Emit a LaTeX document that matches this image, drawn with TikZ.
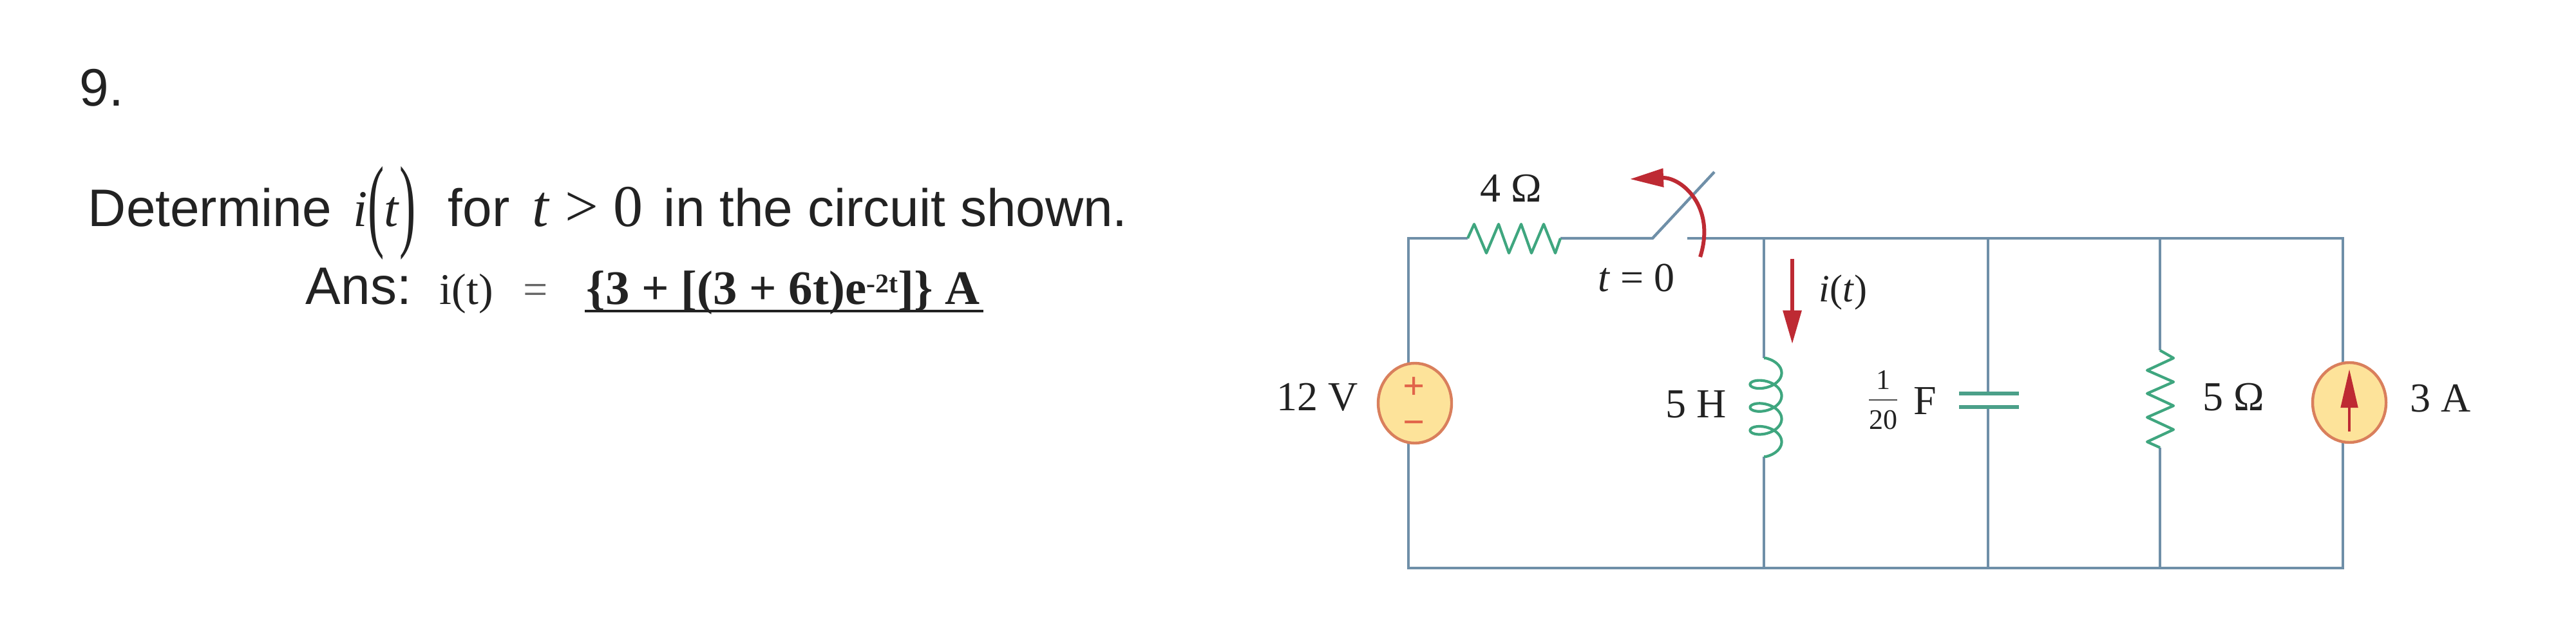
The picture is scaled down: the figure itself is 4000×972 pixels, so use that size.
\documentclass[tikz,border=0pt]{standalone}
\usepackage{fontspec}
\setmainfont{Liberation Serif}
\newfontfamily\arialf{Liberation Sans}
\usetikzlibrary{arrows.meta,shapes.geometric}
\definecolor{wirec}{HTML}{6F8FA8}
\definecolor{compc}{HTML}{3FA67F}
\definecolor{redc}{HTML}{BE2A33}
\definecolor{srcfill}{HTML}{FDE39A}
\definecolor{srcedge}{HTML}{D97F5C}
\definecolor{inkc}{HTML}{222222}
\newcommand{\tallparen}[1]{\raisebox{-4.5pt}{\scalebox{0.95}[2.0]{#1}}}
\tikzset{
  wire/.style={draw=wirec,line width=1.1pt,line join=miter},
  comp/.style={draw=compc,line width=1.05pt,line join=round},
  plate/.style={draw=compc!75!wirec,line width=1.3pt},
  redarrow/.style={draw=redc,line width=1.5pt,-{Triangle[length=13pt,width=7pt,fill=redc]}},
  source/.style={ellipse,draw=srcedge,fill=srcfill,line width=1.1pt,minimum width=28.5pt,minimum height=31pt,inner sep=0pt},
  sans/.style={anchor=base west,inner sep=0pt,text=inkc,font=\arialf\fontsize{20.5}{24}\selectfont},
  mathlbl/.style={anchor=base west,inner sep=0pt,text=inkc,font=\fontsize{20}{24}\selectfont},
  lbl/.style={inner sep=0pt,text=inkc,font=\fontsize{16}{19}\selectfont},
  smalllbl/.style={inner sep=0pt,text=inkc,font=\fontsize{11}{13}\selectfont},
  sign/.style={inner sep=0pt,text=srcedge!80!red,font=\fontsize{15}{17}\bfseries\selectfont}
}
\begin{document}
\begin{tikzpicture}[x=0.25pt,y=-0.25pt]
\useasboundingbox (0,0) rectangle (4000,972);
% text
\node[sans] (nine) at (123,165) {9.};
\node[sans] (det) at (136,352) {Determine};
\node[mathlbl] (it) at (548,352) {\textit{i}\tallparen{(}\textit{t}\tallparen{)}};
\node[sans] (for) at (695,352) {for};
\node[mathlbl,font=\fontsize{23}{28}\selectfont] (tgt) at (826,352) {\textit{t} > 0};
\node[sans] (shown) at (1030,352) {in the circuit shown.};
\node[sans] (ans) at (474,472) {Ans:};
\node[anchor=base west,inner sep=0pt,text=inkc,font=\fontsize{17}{20}\selectfont] (ait) at (682,472) {i(t)};
\node[anchor=base west,inner sep=0pt,text=inkc!70,font=\fontsize{17}{20}\selectfont] (aeq) at (812,472) {=};
\node[anchor=base west,inner sep=0pt,text=inkc,font=\fontsize{18.7}{22}\bfseries\selectfont] (aval) at (910,472) {\{3 + [(3 + 6t)e\raisebox{4.5pt}{\fontsize{10.5}{12}\selectfont -2t}]\} A};
\coordinate (ul1) at (908,483);
\coordinate (ul2) at (1527,483);
\draw[draw=inkc,line width=1.2pt] (ul1) -- (ul2);
% junction coordinates
\coordinate (tl) at (2187,370);
\coordinate (bl) at (2187,882);
\coordinate (tr) at (3638,370);
\coordinate (br) at (3638,882);
\coordinate (rA) at (2279,370);
\coordinate (rB) at (2423,370);
\coordinate (hinge) at (2566,370);
\coordinate (tip) at (2662,267);
\coordinate (cont) at (2620,370);
\coordinate (lt) at (2739,370);
\coordinate (lb) at (2739,882);
\coordinate (lA) at (2739,556);
\coordinate (lB) at (2739,709);
\coordinate (ct) at (3087,370);
\coordinate (cb) at (3087,882);
\coordinate (cU) at (3087,611);
\coordinate (cL) at (3087,632);
\coordinate (r5t) at (3354,370);
\coordinate (r5b) at (3354,882);
\coordinate (r5A) at (3354,544);
\coordinate (r5B) at (3354,695);
\coordinate (vst) at (2187,565);
\coordinate (vsb) at (2187,687);
\coordinate (ist) at (3638,565);
\coordinate (isb) at (3638,685);
% wires
\draw[wire] (vst) -- (tl) -- (rA);
\draw[wire] (rB) -- (hinge) -- (tip);
\draw[wire] (cont) -- (tr) -- (ist);
\draw[wire] (vsb) -- (bl) -- (br) -- (isb);
\draw[wire] (lt) -- (lA);
\draw[wire] (lB) -- (lb);
\draw[wire] (ct) -- (cU);
\draw[wire] (cL) -- (cb);
\draw[wire] (r5t) -- (r5A);
\draw[wire] (r5B) -- (r5b);
% sources
\node[source] (vs) at (2197,626) {};
\node[source] (is) at (3648,625) {};
\node[sign] (plus) at (2196,603) {+};
\node[sign] (minus) at (2196,664) {−};
% resistor 4 ohm
\draw[comp] (rA) -- (2289,348) -- (2308,393) -- (2327,348) -- (2343,393) -- (2362,348) -- (2378,393) -- (2397,348) -- (2415,393) -- (rB);
% inductor
\draw[comp] (lA) -- plot[domain=-90:1170,samples=160,smooth] ({2742+24.5*cos(\x)},{579+\x/360*35.7+14*sin(\x)}) -- (lB);
% capacitor
\draw[plate] (3042,611) -- (3135,611);
\draw[plate] (3042,632) -- (3135,632);
% resistor 5 ohm
\draw[comp] (r5A) -- (3375,556) -- (3334,575) -- (3375,593) -- (3334,611) -- (3375,630) -- (3334,648) -- (3375,667) -- (3334,686) -- (r5B);
% red arrows
\coordinate (swA) at (2640,399);
\coordinate (swB) at (2531,278);
\draw[redarrow] (swA) .. controls (2665,320) and (2610,275) .. (swB);
\coordinate (iA) at (2783,402);
\coordinate (iB) at (2783,534);
\draw[redarrow] (iA) -- (iB);
\coordinate (sA) at (3648,670);
\coordinate (sB) at (3648,573);
\draw[draw=redc,line width=1.2pt,-{Triangle[length=15pt,width=6.5pt,fill=redc]}] (sA) -- (sB);
% labels
\node[lbl] (l4) at (2346,292) {4 Ω};
\node[lbl] (lt0) at (2541,432) {\textit{t} = 0};
\node[lbl,font=\fontsize{15}{18}\selectfont] (li) at (2862,454) {\textit{i}(\textit{t})};
\node[lbl] (l12) at (2046,617) {12 V};
\node[lbl] (l5h) at (2634,628) {5 H};
\node[smalllbl] (f1) at (2924,590) {1};
\node[smalllbl] (f20) at (2924,652) {20};
\coordinate (fa) at (2902,621);
\coordinate (fb) at (2946,621);
\draw[draw=inkc!80,line width=.7pt] (fa) -- (fb);
\node[lbl] (lF) at (2989,623) {F};
\node[lbl] (l5o) at (3468,617) {5 Ω};
\node[lbl] (l3a) at (3790,619) {3 A};
\end{tikzpicture}
\end{document}
